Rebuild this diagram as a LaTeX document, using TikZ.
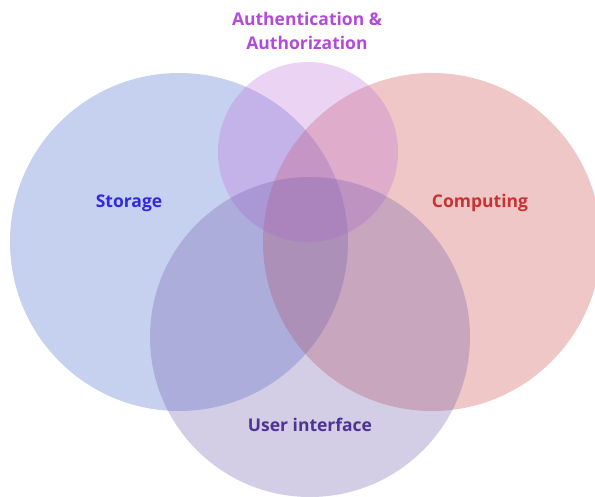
\documentclass[tikz,border=0pt]{standalone}
\usepackage{fontspec}
\setmainfont{Open Sans}
\definecolor{cStorage}{RGB}{68,105,208}
\definecolor{cComputing}{RGB}{205,72,72}
\definecolor{cAuth}{RGB}{192,112,217}
\definecolor{cUI}{RGB}{112,92,172}
\definecolor{tStorage}{RGB}{52,40,222}
\definecolor{tComputing}{RGB}{200,50,50}
\definecolor{tAuth}{RGB}{178,76,214}
\definecolor{tUI}{RGB}{76,52,150}
\begin{document}
\begin{tikzpicture}[x=1pt,y=-1pt,
  venn/.style={circle,inner sep=0pt,fill opacity=0.3,draw=none},
  lbl/.style={font=\bfseries\fontsize{17.5}{24}\selectfont,align=center,inner sep=0pt}]
\useasboundingbox (0,0) rectangle (595,496);
\clip (0,0) rectangle (595,496);
\fill[white] (0,0) rectangle (595,496);
\node[venn,fill=cStorage,minimum size=338pt] (storage) at (179,242) {};
\node[venn,fill=cComputing,minimum size=338pt] (computing) at (432,242) {};
\node[venn,fill=cAuth,minimum size=180pt] (auth) at (308,152) {};
\node[venn,fill=cUI,minimum size=320pt] (ui) at (310,337) {};
\node[lbl,text=tStorage] (tstorage) at (129,203) {Storage};
\node[lbl,text=tComputing] (tcomputing) at (480,203) {Computing};
\node[lbl,text=tUI] (tui) at (310,425) {User interface};
\node[lbl,text=tAuth] (tauth) at (307,31) {Authentication \&\\Authorization};
\end{tikzpicture}
\end{document}
